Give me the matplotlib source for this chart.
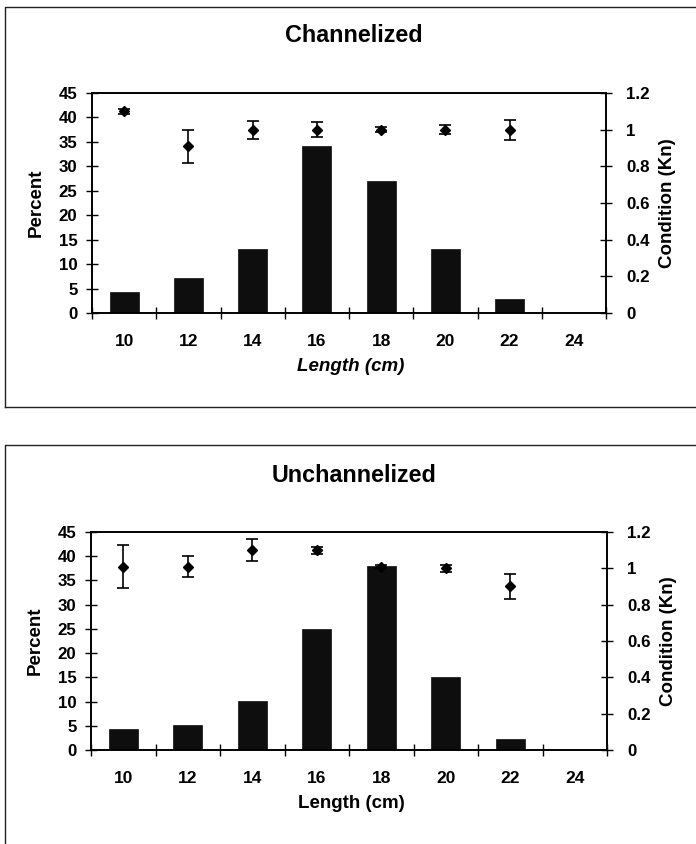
import numpy as np
import matplotlib
matplotlib.use("Agg")
import matplotlib.pyplot as plt
from matplotlib.lines import Line2D

plt.rcParams['font.family'] = ['Liberation Sans', 'DejaVu Sans']
plt.rcParams['font.weight'] = 'bold'

# ---- data ----
length_labels = ["10", "12", "14", "16", "18", "20", "22", "24"]

chan_percent = [4.2, 7.2, 13.0, 34.2, 27.0, 13.0, 2.9, 0.0]
chan_kn = [1.10, 0.91, 1.00, 1.00, 1.00, 1.00, 1.00, np.nan]
chan_kn_err = [0.015, 0.09, 0.05, 0.04, 0.015, 0.025, 0.055, np.nan]

unch_percent = [4.3, 5.1, 10.1, 25.0, 38.0, 15.0, 2.2, 0.0]
unch_kn = [1.01, 1.01, 1.10, 1.10, 1.01, 1.00, 0.90, np.nan]
unch_kn_err = [0.12, 0.06, 0.06, 0.02, 0.01, 0.02, 0.07, np.nan]

percent_ticks = [0, 5, 10, 15, 20, 25, 30, 35, 40, 45]
percent_ticklabels = ["0", "5", "10", "15", "20", "25", "30", "35", "40", "45"]
kn_ticks = [0, 0.2, 0.4, 0.6, 0.8, 1.0, 1.2]
kn_ticklabels = ["0", "0.2", "0.4", "0.6", "0.8", "1", "1.2"]

titles = ["Channelized", "Unchannelized"]
xlabels = ["Length (cm)", "Length (cm)"]
xlabel_styles = ["italic", "normal"]

W, H = 696, 844
fig = plt.figure(figsize=(W / 100, H / 100), dpi=100)


def fx(px):
    return px / W


def fy(py):
    return 1 - py / H


# outer boxes
box_kw = dict(color="#222222", lw=1.0, transform=fig.transFigure, clip_on=False)
fig.add_artist(Line2D([fx(5), fx(5), 1.01], [fy(407), fy(7), fy(7)], **box_kw))
fig.add_artist(Line2D([fx(5), 1.01], [fy(407), fy(407)], **box_kw))
fig.add_artist(Line2D([fx(5), fx(5), 1.01], [-0.01, fy(445), fy(445)], **box_kw))

panels = [
    dict(rect=(92, 93, 606, 313), title_y=35, pct=chan_percent, kn=chan_kn, err=chan_kn_err),
    dict(rect=(91, 532, 607, 750), title_y=475, pct=unch_percent, kn=unch_kn, err=unch_kn_err),
]

x = np.arange(len(length_labels))

for i, p in enumerate(panels):
    l, t, r, b = p["rect"]
    ax = fig.add_axes([fx(l), fy(b), fx(r) - fx(l), fy(t) - fy(b)])
    ax.bar(x, p["pct"], width=0.45, color="#0e0e0e", edgecolor="#0e0e0e", linewidth=0.5, zorder=2)
    ax.set_xlim(-0.5, len(length_labels) - 0.5)
    ax.set_ylim(0, 45)
    ax.set_yticks(percent_ticks)
    ax.set_yticklabels(percent_ticklabels)
    ax.set_xticks(np.arange(-0.5, len(length_labels), 1.0))
    ax.set_xticklabels([])
    ax.set_xticks(x, minor=True)
    ax.set_xticklabels(length_labels, minor=True)
    ax.tick_params(axis="x", which="major", direction="inout", length=9, width=1.0)
    ax.tick_params(axis="x", which="minor", length=0, pad=15, labelsize=12.5)
    ax.tick_params(axis="y", direction="inout", length=9, width=1.0, pad=6, labelsize=12.2, right=False)
    for s in ax.spines.values():
        s.set_linewidth(1.2)
    ax.set_ylabel("Percent", fontsize=13.5, fontweight="bold", va="center")
    ax.yaxis.set_label_coords(-0.108, 0.5)
    ax.set_xlabel(xlabels[i], fontsize=13.5, fontweight="bold", style=xlabel_styles[i], va="center")
    ax.xaxis.set_label_coords(0.504, -0.245)

    ax2 = ax.twinx()
    ax2.errorbar(x, p["kn"], yerr=p["err"], fmt="D", color="black", markersize=5.5,
                 ecolor="black", elinewidth=1.2, capsize=4.5, capthick=1.2, zorder=3)
    ax2.set_ylim(0, 1.2)
    ax2.set_yticks(kn_ticks)
    ax2.set_yticklabels(kn_ticklabels)
    ax2.tick_params(axis="y", direction="inout", length=9, width=1.0, pad=10, labelsize=12.2)
    for s in ax2.spines.values():
        s.set_linewidth(1.2)
    ax2.set_ylabel("Condition (Kn)", fontsize=13.5, fontweight="bold", va="center")
    ax2.yaxis.set_label_coords(1.12, 0.5)

    fig.text(fx(354), fy(p["title_y"]), titles[i], ha="center", va="center",
             fontsize=16.8, fontweight="bold")

fig.savefig("out.png", dpi=100)
